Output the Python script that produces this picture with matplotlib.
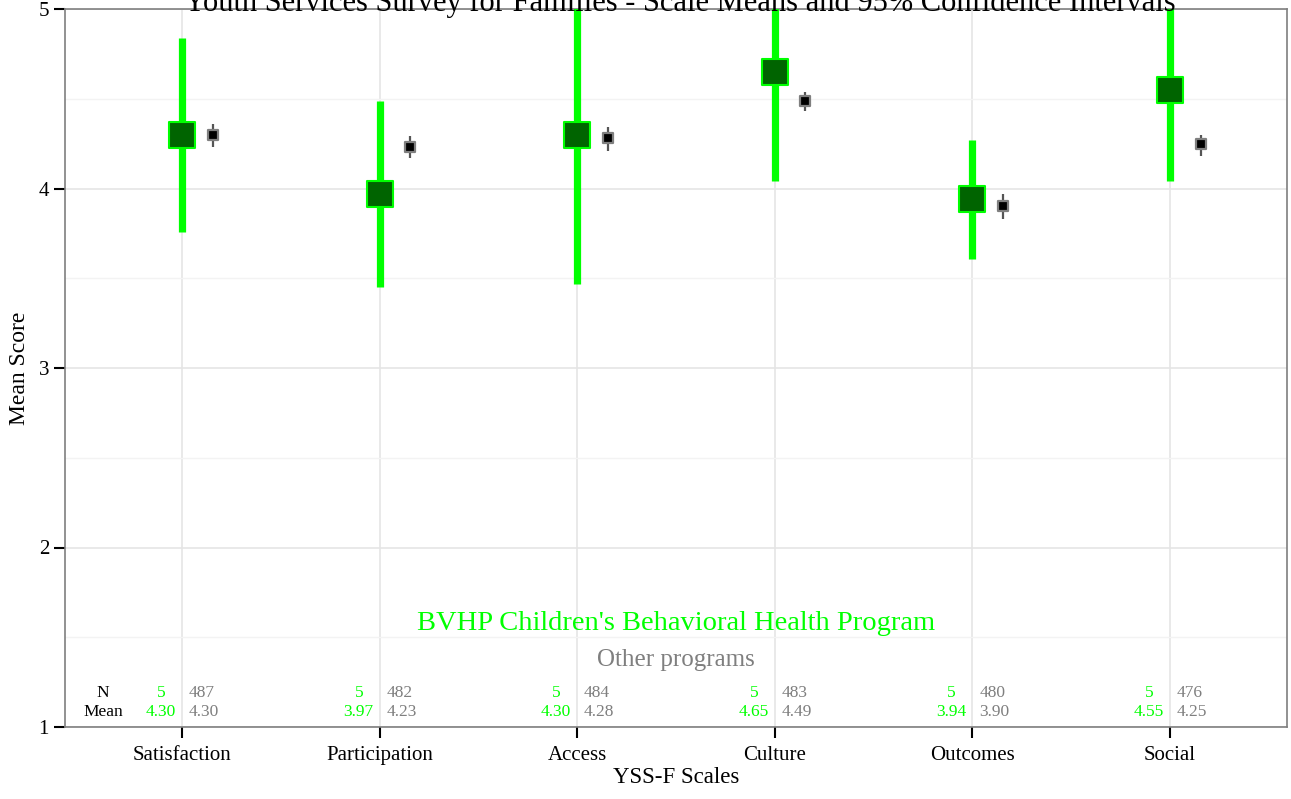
import matplotlib
matplotlib.use("Agg")
import matplotlib.pyplot as plt
from matplotlib.ticker import MultipleLocator

plt.rcParams["font.family"] = ["Liberation Serif", "DejaVu Serif"]

GREEN = "#00FF00"; DKGREEN = "#006400"; GREY = "#7F7F7F"; GRID = "#E5E5E5"

scales = ["Satisfaction", "Participation", "Access", "Culture", "Outcomes", "Social"]
prog_mean = [4.30, 3.97, 4.30, 4.65, 3.94, 4.55]
prog_lo = [3.76, 3.45, 3.47, 4.04, 3.61, 4.04]
prog_hi = [4.84, 4.49, 5.13, 5.26, 4.27, 5.06]
prog_n = [5, 5, 5, 5, 5, 5]
other_mean = [4.30, 4.23, 4.28, 4.49, 3.90, 4.25]
other_lo = [4.23, 4.17, 4.21, 4.43, 3.83, 4.18]
other_hi = [4.36, 4.29, 4.34, 4.54, 3.97, 4.30]
other_n = [487, 482, 484, 483, 480, 476]

fig = plt.figure(figsize=(12.91, 7.99), dpi=100)
ax = fig.add_axes([65 / 1291, 1 - 727 / 799, 1222 / 1291, 718 / 799])
xs = list(range(1, len(scales) + 1))
off = 0.155

ax.set_xlim(0.408, 6.592); ax.set_ylim(1, 5)
ax.yaxis.set_major_locator(MultipleLocator(1))
ax.yaxis.set_minor_locator(MultipleLocator(0.5))
ax.grid(True, which="major", color=GRID, lw=1.2, zorder=0)
ax.grid(True, which="minor", axis="y", color="#F3F3F3", lw=1.0, zorder=0)
ax.set_xticks(xs); ax.set_xticklabels(scales, fontsize=15)
ax.tick_params(axis="y", which="minor", length=0)
ax.tick_params(axis="both", which="major", length=8, width=1.5, color="black", labelsize=15)
ax.tick_params(axis="x", pad=6)
for s in ax.spines.values():
    s.set_color(GREY); s.set_linewidth(1.2)

# program CIs and means
ax.vlines(xs, prog_lo, prog_hi, color=GREEN, lw=5.2, zorder=3)
ax.scatter(xs, prog_mean, marker="s", s=360, facecolor=DKGREEN, edgecolor=GREEN,
           linewidth=1.5, zorder=4)
# other programs
xo = [x + off for x in xs]
ax.vlines(xo, other_lo, other_hi, color="#555555", lw=1.6, zorder=3)
ax.scatter(xo, other_mean, marker="s", s=58, facecolor="black", edgecolor=GREY,
           linewidth=1.6, zorder=4)

# annotations
ax.text(3.5, 1.575, "BVHP Children's Behavioral Health Program", color=GREEN,
        fontsize=20.5, ha="center", va="center")
ax.text(3.5, 1.375, "Other programs", color=GREY, fontsize=18, ha="center", va="center")
ax.text(0.6, 1.19, "N", fontsize=12.5, ha="center", va="center")
ax.text(0.6, 1.085, "Mean", fontsize=12.5, ha="center", va="center")
for x, n, m, on, om in zip(xs, prog_n, prog_mean, other_n, other_mean):
    ax.text(x - 0.105, 1.19, f"{n}", color=GREEN, fontsize=12.5, ha="center", va="center")
    ax.text(x - 0.03, 1.085, f"{m:.2f}", color=GREEN, fontsize=12.5, ha="right", va="center")
    ax.text(x + 0.035, 1.19, f"{on}", color=GREY, fontsize=12.5, ha="left", va="center")
    ax.text(x + 0.035, 1.085, f"{om:.2f}", color=GREY, fontsize=12.5, ha="left", va="center")

ax.set_xlabel("YSS-F Scales", fontsize=16.5, labelpad=1)
ax.set_ylabel("Mean Score", fontsize=17, labelpad=6)
fig.text(680 / 1291, 1 - 3 / 799,
         "Youth Services Survey for Families - Scale Means and 95% Confidence Intervals",
         fontsize=22, ha="center", va="center")

fig.savefig("out.png", dpi=100)
